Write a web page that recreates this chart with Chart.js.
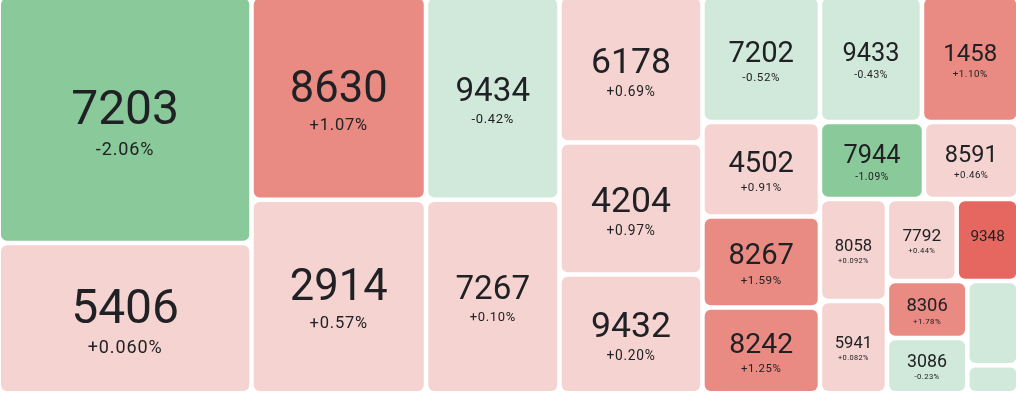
<!DOCTYPE html>
<html>
<head>
<meta charset="utf-8">
<script src="https://cdn.jsdelivr.net/npm/chart.js@4.4.1/dist/chart.umd.min.js"></script>
<style>
  html, body { margin: 0; padding: 0; background: #fff; }
  #wrap { width: 1016px; height: 393px; }
</style>
</head>
<body>
<div id="wrap"><canvas id="chart" width="1016" height="393"></canvas></div>
<script>
// cell labels (quote), daily change in %, and size weight of each cell
const labels  = ['7203', '5406', '8630', '2914', '9434', '7267', '6178', '4204', '9432',
                 '7202', '4502', '8267', '8242', '9433', '1458', '7944', '8591', '8058',
                 '5941', '7792', '9348', '8306', '3086', '5163', '2270'];
const changes = [-2.06, 0.060, 1.07, 0.57, -0.42, 0.10, 0.69, 0.97, 0.20,
                 -0.52, 0.91, 1.59, 1.25, -0.43, 1.10, -1.09, 0.46, 0.092,
                 0.082, 0.44, 2.31, 1.78, -0.23, -0.31, -0.18];
const weights = [6237, 3798, 3552, 3376, 2717, 2583, 2091, 1888, 1698,
                 1478, 1110, 1069, 1008, 1283, 1214, 801, 728, 683,
                 618, 572, 507, 458, 444, 432, 143];

const GAP = 4.5;
const RADIUS = 6;
const TEXT = '#202124';
const FONT = 'Roboto, "Open Sans", sans-serif';

function colorFor(v) {
  if (v <= -1) return '#8ac999';
  if (v < 0) return '#d1e9da';
  if (v < 1) return '#f5d3d0';
  if (v < 2) return '#e98a83';
  return '#e6675f';
}

function fmtChange(v) {
  const s = Math.abs(v) < 0.1 ? Math.abs(v).toFixed(3) : Math.abs(v).toFixed(2);
  return (v < 0 ? '-' : '+') + s + '%';
}

// worst aspect ratio of a strip of areas laid along 'side'
function worst(row, side) {
  const sum = row.reduce((a, b) => a + b, 0);
  const thick = sum / side;
  let m = 0;
  row.forEach(a => {
    const len = a / thick;
    m = Math.max(m, len / thick, thick / len);
  });
  return m;
}

// squarified layout, keeping the data order
function squarify(vals, rect) {
  const total = vals.reduce((a, b) => a + b, 0);
  const areas = vals.map(v => v * rect.w * rect.h / total);
  const out = [];
  const r = Object.assign({}, rect);
  let i = 0;
  while (i < areas.length) {
    const vertical = r.w / r.h > 0.765; // strip on the left, cells stacked downwards
    const side = vertical ? r.h : r.w;
    const row = [areas[i]];
    let best = worst(row, side);
    let j = i + 1;
    while (j < areas.length) {
      const next = worst(row.concat(areas[j]), side);
      if (next > best) break;
      row.push(areas[j]);
      best = next;
      j++;
    }
    const thick = row.reduce((a, b) => a + b, 0) / side;
    let off = 0;
    row.forEach(a => {
      const len = a / thick;
      if (vertical) out.push({ x: r.x, y: r.y + off, w: thick, h: len });
      else out.push({ x: r.x + off, y: r.y, w: len, h: thick });
      off += len;
    });
    if (vertical) { r.x += thick; r.w -= thick; } else { r.y += thick; r.h -= thick; }
    i = j;
  }
  return out;
}

function roundRect(ctx, x, y, w, h, rad) {
  const r = Math.min(rad, w / 2, h / 2);
  ctx.beginPath();
  ctx.moveTo(x + r, y);
  ctx.arcTo(x + w, y, x + w, y + h, r);
  ctx.arcTo(x + w, y + h, x, y + h, r);
  ctx.arcTo(x, y + h, x, y, r);
  ctx.arcTo(x, y, x + w, y, r);
  ctx.closePath();
}

const treemapPlugin = {
  id: 'treemapCells',
  afterDatasetsDraw(chart) {
    const ctx = chart.ctx;
    const xs = chart.scales.x;
    const ys = chart.scales.y;
    const cells = squarify(weights, { x: -1.25, y: -3.75, w: 1019.75, h: 397 });

    cells.forEach((c, i) => {
      const x0 = xs.getPixelForValue(c.x) + GAP / 2;
      const x1 = xs.getPixelForValue(c.x + c.w) - GAP / 2;
      const y0 = ys.getPixelForValue(c.y) + GAP / 2;
      const y1 = ys.getPixelForValue(c.y + c.h) - GAP / 2;
      const w = x1 - x0;
      const h = y1 - y0;

      ctx.save();
      roundRect(ctx, x0, y0, w, h, RADIUS);
      ctx.fillStyle = colorFor(changes[i]);
      ctx.fill();

      const f = Math.min(48, w / 4 + 1, 0.35 * h);
      const p = Math.min(18, 0.34 * f + 1.7);
      if (f >= 14) {
        const cx = x0 + w / 2;
        const cy = y0 + h / 2;
        const vb = cy + 0.205 * f - 0.3 * p;
        ctx.fillStyle = TEXT;
        ctx.textAlign = 'center';
        ctx.textBaseline = 'alphabetic';
        ctx.letterSpacing = '0px';
        ctx.font = '400 ' + f.toFixed(1) + 'px ' + FONT;
        ctx.fillText(labels[i], cx, vb);
        if (p >= 7.1) {
          ctx.font = '400 ' + p.toFixed(1) + 'px ' + FONT;
          ctx.letterSpacing = (0.05 * p).toFixed(2) + 'px';
          ctx.fillText(fmtChange(changes[i]), cx, vb + 0.3 * f + 0.9 * p);
        }
      }
      ctx.restore();
    });
  }
};

new Chart(document.getElementById('chart').getContext('2d'), {
  type: 'scatter',
  data: { datasets: [{ data: [], pointRadius: 0 }] },
  options: {
    responsive: false,
    animation: false,
    layout: { padding: 0 },
    plugins: { legend: { display: false }, tooltip: { enabled: false } },
    scales: {
      x: { type: 'linear', min: 0, max: 1016, display: false },
      y: { type: 'linear', min: 0, max: 393, reverse: true, display: false }
    }
  },
  plugins: [treemapPlugin]
});
</script>
</body>
</html>
